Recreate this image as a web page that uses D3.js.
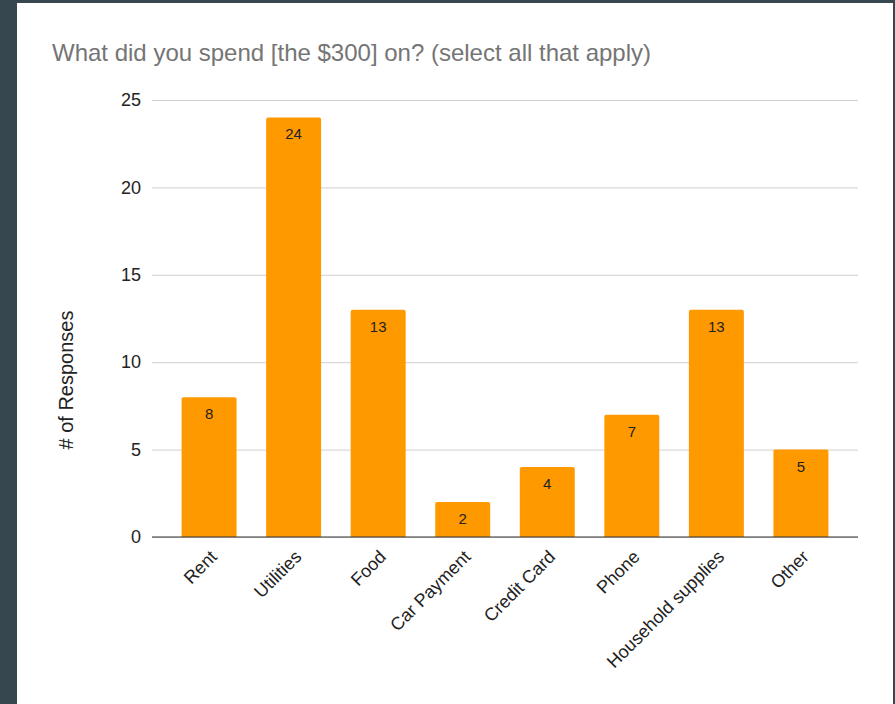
<!DOCTYPE html>
<html>
<head>
<meta charset="utf-8">
<script src="https://cdn.jsdelivr.net/npm/d3@7"></script>
<style>
  html, body { margin: 0; padding: 0; background: #37474f; }
  svg { display: block; font-family: Arial, "Liberation Sans", sans-serif; }
</style>
</head>
<body>
<svg id="chart"></svg>
<script>
const categories = ['Rent', 'Utilities', 'Food', 'Car Payment', 'Credit Card', 'Phone', 'Household supplies', 'Other']
const responses = [8, 24, 13, 2, 4, 7, 13, 5]
const yTicks = [0, 5, 10, 15, 20, 25]

const width = 895, height = 704
const margin = {top: 100, right: 37, bottom: 167, left: 152}

const svg = d3.select('#chart')
    .attr('width', width)
    .attr('height', height)

// white card on the dark page
svg.append('rect')
    .attr('x', 17).attr('y', 3)
    .attr('width', 876).attr('height', height)
    .attr('fill', '#fff')

const innerW = width - margin.left - margin.right
const innerH = height - margin.top - margin.bottom

const chart = svg.append('g')
    .attr('transform', `translate(${margin.left},${margin.top})`)

const x = d3.scaleBand()
    .domain(categories)
    .range([0, innerW])
    .paddingInner(0.35)
    .paddingOuter(0.35)

const y = d3.scaleLinear()
    .domain([0, 25])
    .range([innerH, 0])

// gridlines
const yAxis = d3.axisLeft(y)
    .tickValues(yTicks)
    .tickSize(-innerW)
    .tickPadding(11)

const yAxisG = chart.append('g').call(yAxis)
yAxisG.select('.domain').remove()
yAxisG.selectAll('line').attr('stroke', '#d0d0d0')
yAxisG.selectAll('text')
    .attr('fill', '#222')
    .style('font-size', '18px')

const data = categories.map((c, i) => ({cat: c, val: responses[i]}))

const r = 2
chart.selectAll('.bar')
    .data(data)
    .join('path')
    .attr('class', 'bar')
    .attr('fill', '#ff9900')
    .attr('d', d => {
        const x0 = x(d.cat), w = x.bandwidth(), y0 = y(d.val), b = y(0)
        return `M${x0},${b}V${y0 + r}Q${x0},${y0} ${x0 + r},${y0}H${x0 + w - r}Q${x0 + w},${y0} ${x0 + w},${y0 + r}V${b}Z`
    })

chart.selectAll('.val')
    .data(data)
    .join('text')
    .attr('class', 'val')
    .attr('x', d => x(d.cat) + x.bandwidth() / 2)
    .attr('y', d => y(d.val) + 22)
    .attr('text-anchor', 'middle')
    .attr('fill', '#222')
    .style('font-size', '15px')
    .text(d => d.val)

// baseline
chart.append('line')
    .attr('x1', 0).attr('x2', innerW)
    .attr('y1', y(0)).attr('y2', y(0))
    .attr('stroke', '#333')
    .attr('stroke-width', 1.2)

// category labels
chart.selectAll('.cat')
    .data(categories)
    .join('text')
    .attr('class', 'cat')
    .attr('transform', d => `translate(${x(d) + x.bandwidth() / 2 + 9},${y(0) + 21}) rotate(-45)`)
    .attr('text-anchor', 'end')
    .attr('fill', '#222')
    .style('font-size', '18px')
    .text(d => d)

svg.append('text')
    .attr('x', 52)
    .attr('y', 61)
    .attr('fill', '#757575')
    .style('font-size', '24px')
    .text('What did you spend [the $300] on? (select all that apply)')

svg.append('text')
    .attr('transform', `translate(73,380) rotate(-90)`)
    .attr('text-anchor', 'middle')
    .attr('fill', '#222')
    .style('font-size', '20px')
    .text('# of Responses')
</script>
</body>
</html>
